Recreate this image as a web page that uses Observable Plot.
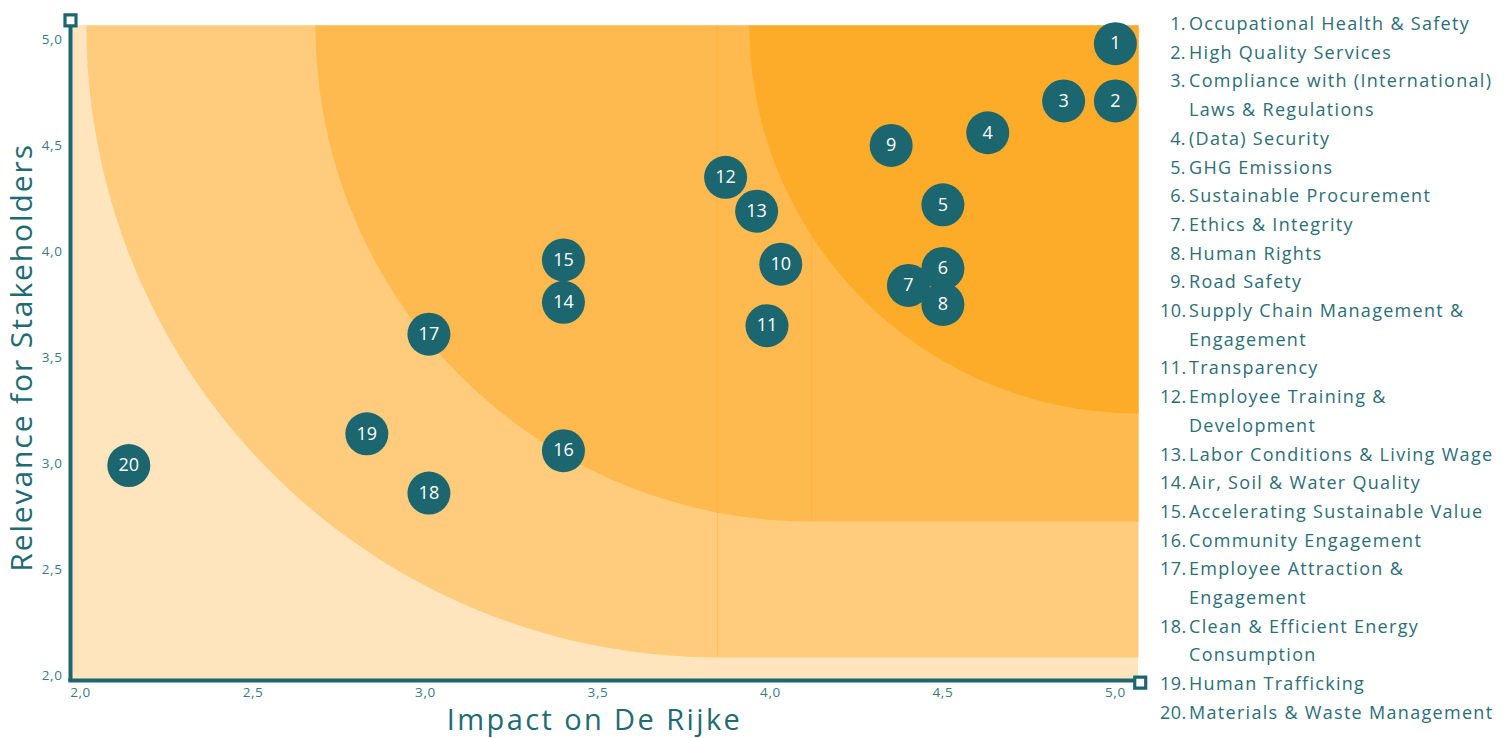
<!DOCTYPE html>
<html>
<head>
<meta charset="utf-8">
<script src="https://cdn.jsdelivr.net/npm/d3@7"></script>
<script src="https://cdn.jsdelivr.net/npm/@observablehq/plot@0.6"></script>
<style>
  html, body { margin: 0; padding: 0; background: #ffffff; }
  #wrap { position: relative; width: 1510px; height: 738px; overflow: hidden; font-family: "Open Sans", "Noto Sans", sans-serif; }
  #chart { position: absolute; left: 0; top: 0; }
  #legend { position: absolute; left: 1160px; top: 9px; display: grid; grid-template-columns: 26px 322px; column-gap: 3px;
            font-size: 18px; line-height: 28.7px; color: #2c6e77; }
  #legend .num { text-align: right; white-space: nowrap; letter-spacing: 0.4px; }
  #legend .txt { white-space: pre-line; letter-spacing: 1.3px; }
  #chart g[aria-label="x-axis tick label"] text, #chart g[aria-label="y-axis tick label"] text { letter-spacing: 0.6px; }
</style>
</head>
<body>
<div id="wrap">
  <div id="chart"></div>
  <div id="legend"></div>
</div>
<script>
// ---- data ----
const topicIds = [1, 2, 3, 4, 5, 6, 7, 8, 9, 10, 11, 12, 13, 14, 15, 16, 17, 18, 19, 20];
const topicNames = [
  "Occupational Health & Safety",
  "High Quality Services",
  "Compliance with (International)\nLaws & Regulations",
  "(Data) Security",
  "GHG Emissions",
  "Sustainable Procurement",
  "Ethics & Integrity",
  "Human Rights",
  "Road Safety",
  "Supply Chain Management &\nEngagement",
  "Transparency",
  "Employee Training &\nDevelopment",
  "Labor Conditions & Living Wage",
  "Air, Soil & Water Quality",
  "Accelerating Sustainable Value",
  "Community Engagement",
  "Employee Attraction &\nEngagement",
  "Clean & Efficient Energy\nConsumption",
  "Human Trafficking",
  "Materials & Waste Management"
];
const impactScores    = [5.00, 5.00, 4.85, 4.63, 4.50, 4.50, 4.40, 4.50, 4.35, 4.03, 3.99, 3.87, 3.96, 3.40, 3.40, 3.40, 3.01, 3.01, 2.83, 2.14];
const relevanceScores = [4.98, 4.71, 4.71, 4.56, 4.22, 3.92, 3.84, 3.75, 4.50, 3.94, 3.65, 4.35, 4.19, 3.76, 3.96, 3.06, 3.61, 2.86, 3.14, 2.99];

const xTicks = [2.0, 2.5, 3.0, 3.5, 4.0, 4.5, 5.0];
const yTicks = [2.0, 2.5, 3.0, 3.5, 4.0, 4.5, 5.0];
const xLabel = "Impact on De Rijke";
const yLabel = "Relevance for Stakeholders";

// background priority zones (data units): left edge at top, bottom edge, x where rounded corner ends
const zoneLeft      = [2.017, 2.681, 3.939];
const zoneBottom    = [2.085, 2.726, 3.236];
const zoneCornerEnd = [3.846, 4.119, 5.067];
const zoneColors    = ["#fecc7c", "#feba4e", "#fdac2a"];
const baseColor = "#fee5bd";

// ---- setup ----
const xDomain = [1.971, 5.067];
const yDomain = [1.976, 5.066];
const teal = "#1c6670";
const fmt = d => d.toFixed(1).replace(".", ",");

const points = topicIds.map((id, i) => ({id, name: topicNames[i], x: impactScores[i], y: relevanceScores[i]}));

function zonePolygon(k) {
  const left = zoneLeft[k], bottom = zoneBottom[k], xc = zoneCornerEnd[k];
  const top = yDomain[1], right = xDomain[1];
  const rx = xc - left, ry = top - bottom;
  const pts = [];
  const n = 90;
  for (let j = 0; j <= n; j++) {
    const t = (j / n) * Math.PI / 2;
    pts.push({x: xc - rx * Math.cos(t), y: top - ry * Math.sin(t), z: k});
  }
  pts.push({x: right, y: bottom, z: k});
  pts.push({x: right, y: top, z: k});
  return pts;
}
const zones = zoneColors.map((c, k) => zonePolygon(k));

// seam lines (edges of the rectangular parts)
const seams = [
  {x: zoneCornerEnd[0], y1: zoneBottom[0], y2: yDomain[1]},
  {x: zoneCornerEnd[1], y1: zoneBottom[1], y2: 4.071}
];

const chart = Plot.plot({
  width: 1160,
  height: 738,
  marginLeft: 70,
  marginRight: 22,
  marginTop: 25,
  marginBottom: 58,
  style: {fontFamily: "'Open Sans', 'Noto Sans', sans-serif", background: "transparent", overflow: "visible"},
  x: {domain: xDomain},
  y: {domain: yDomain},
  marks: [
    Plot.rect([0], {x1: xDomain[0], x2: xDomain[1], y1: yDomain[0], y2: yDomain[1], fill: baseColor}),
    ...zones.map((z, k) => Plot.line(z, {x: "x", y: "y", fill: zoneColors[k], stroke: "none", curve: "linear"})),
    Plot.ruleX(seams, {x: "x", y1: "y1", y2: "y2", stroke: "#fcab2c", strokeOpacity: 0.45, strokeWidth: 1}),
    // axis lines with square end caps
    Plot.ruleX([xDomain[0]], {y1: yDomain[0] - 0.005, y2: 5.09, stroke: teal, strokeWidth: 4}),
    Plot.ruleY([yDomain[0]], {x1: xDomain[0] - 0.005, x2: 5.072, stroke: teal, strokeWidth: 4}),
    Plot.dot([{x: xDomain[0], y: 5.09}, {x: 5.072, y: yDomain[0] - 0.01}], {x: "x", y: "y", symbol: "square", r: 6.2, fill: "white", stroke: teal, strokeWidth: 3.2}),
    Plot.axisX(xTicks, {tickSize: 0, tickPadding: 7, tickFormat: fmt, fontSize: 13.5, fill: "#3a7b83", label: null}),
    Plot.axisY(yTicks, {tickSize: 0, tickPadding: 8, tickFormat: fmt, fontSize: 13.5, fill: "#3a7b83", label: null}),
    // bubbles
    Plot.dot(points, {x: "x", y: "y", r: 21.5, fill: teal, stroke: "none"}),
    Plot.text(points, {x: "x", y: "y", text: d => String(d.id), fill: "white", fontSize: 18}),
    // axis titles
    Plot.text([xLabel], {x: () => 3.49, frameAnchor: "bottom", dy: 40, lineAnchor: "middle", textAnchor: "middle",
      text: d => d, fontSize: 29, fill: "#1f6b74"}),
    Plot.text([yLabel], {y: () => 3.5, frameAnchor: "left", dx: -48, rotate: -90, lineAnchor: "middle", textAnchor: "middle",
      text: d => d, fontSize: 30, fill: "#1f6b74"})
  ]
});
document.getElementById("chart").appendChild(chart);
d3.select(chart).selectAll("text")
  .filter(function() { return this.textContent === xLabel; })
  .style("letter-spacing", "2.4px");
d3.select(chart).selectAll("text")
  .filter(function() { return this.textContent === yLabel; })
  .style("letter-spacing", "1.9px");

// legend
const legend = document.getElementById("legend");
points.forEach(p => {
  const n = document.createElement("div");
  n.className = "num";
  n.textContent = p.id + ".";
  const t = document.createElement("div");
  t.className = "txt";
  t.textContent = p.name;
  legend.appendChild(n);
  legend.appendChild(t);
});
</script>
</body>
</html>
